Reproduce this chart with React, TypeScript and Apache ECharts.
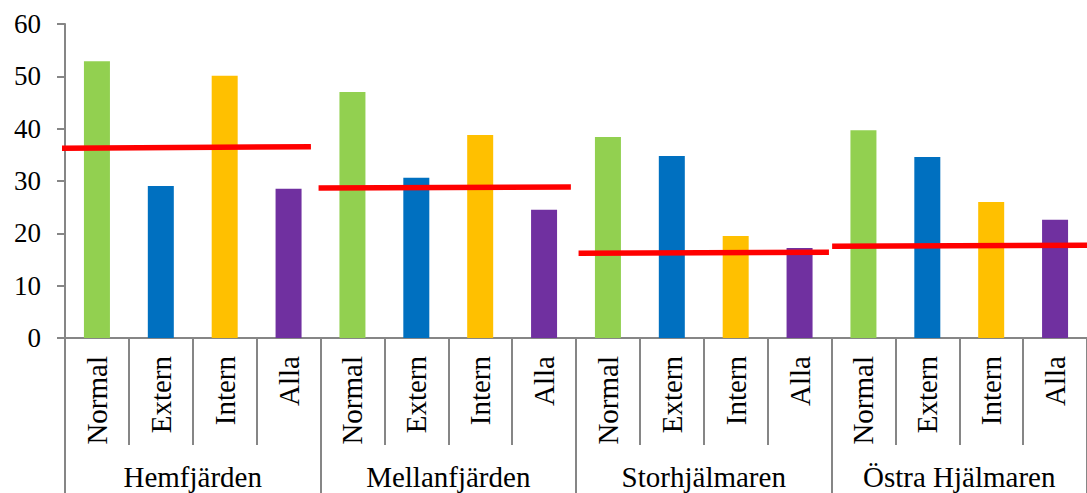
import React, { useEffect, useRef } from "react";
import * as echarts from "echarts";

const groups = ["Hemfjärden", "Mellanfjärden", "Storhjälmaren", "Östra Hjälmaren"];
const types = ["Normal", "Extern", "Intern", "Alla"];
const typeColors = ["#92D050", "#0070C0", "#FFC000", "#7030A0"];

const normalValues = [52.9, 47.0, 38.4, 39.7];
const externValues = [29.05, 30.6, 34.8, 34.6];
const internValues = [50.1, 38.8, 19.5, 26.0];
const allaValues = [28.5, 24.5, 17.2, 22.6];

// average lines per group: start/end positions (in category units) and values
const avgStartPos = [-0.05, 3.97, 8.04, 12.01];
const avgEndPos = [3.85, 7.92, 11.96, 16.0];
const avgStartValues = [36.25, 28.66, 16.18, 17.52];
const avgEndValues = [36.56, 28.86, 16.37, 17.72];

const yTicks = { min: 0, max: 60, interval: 10 };

export default function App() {
  const ref = useRef<HTMLDivElement>(null);
  useEffect(() => {
    if (!ref.current) return;
    const chart = echarts.init(ref.current, undefined, { renderer: "svg" });
    const valuesByType = [normalValues, externValues, internValues, allaValues];
    const categories: string[] = [];
    const barData: any[] = [];
    groups.forEach((g, gi) => {
      types.forEach((t, ti) => {
        categories.push(t);
        barData.push({ value: valuesByType[ti][gi], itemStyle: { color: typeColors[ti] } });
      });
    });
    const axisGray = "#868686";
    const font = "'Liberation Serif', 'Times New Roman', serif";
    const lineSeries = groups.map((g, gi) => ({
      type: "line",
      name: g + " medel",
      xAxisIndex: 2,
      yAxisIndex: 0,
      data: [
        [avgStartPos[gi], avgStartValues[gi]],
        [avgEndPos[gi], avgEndValues[gi]],
      ],
      symbol: "none",
      clip: false,
      z: 5,
      lineStyle: { color: "#FF0000", width: 5.5 },
    }));
    chart.setOption({
      animation: false,
      backgroundColor: "#ffffff",
      grid: { left: 65, right: -8, top: 24, bottom: 155, containLabel: false },
      xAxis: [
        {
          type: "category",
          data: categories,
          position: "bottom",
          axisLine: { show: true, lineStyle: { color: axisGray, width: 2 } },
          axisTick: { show: true, interval: 0, length: 107, lineStyle: { color: axisGray, width: 2 } },
          axisLabel: {
            interval: 0,
            rotate: 90,
            margin: 18,
            color: "#000",
            fontFamily: font,
            fontSize: 29,
          },
        },
        {
          type: "category",
          data: groups,
          position: "bottom",
          axisLine: { show: false },
          axisTick: { show: true, interval: 0, length: 160, lineStyle: { color: axisGray, width: 2 } },
          axisLabel: {
            interval: 0,
            margin: 139,
            verticalAlign: "middle",
            color: "#000",
            fontFamily: font,
            fontSize: 29,
          },
        },
        {
          type: "value",
          min: 0,
          max: 16,
          show: false,
        },
      ],
      yAxis: {
        type: "value",
        min: yTicks.min,
        max: yTicks.max,
        interval: yTicks.interval,
        axisLine: { show: true, lineStyle: { color: axisGray, width: 2 } },
        axisTick: { show: true, length: 8, lineStyle: { color: axisGray, width: 2 } },
        splitLine: { show: false },
        axisLabel: {
          margin: 24,
          color: "#000",
          fontFamily: font,
          fontSize: 27,
        },
      },
      series: [
        {
          type: "bar",
          xAxisIndex: 0,
          yAxisIndex: 0,
          data: barData,
          barWidth: 26,
          z: 2,
        },
        ...lineSeries,
      ],
    });
    return () => chart.dispose();
  }, []);
  return (
    <div
      ref={ref}
      style={{ position: "fixed", left: 0, top: 0, width: 1087, height: 493, background: "#fff" }}
    />
  );
}
